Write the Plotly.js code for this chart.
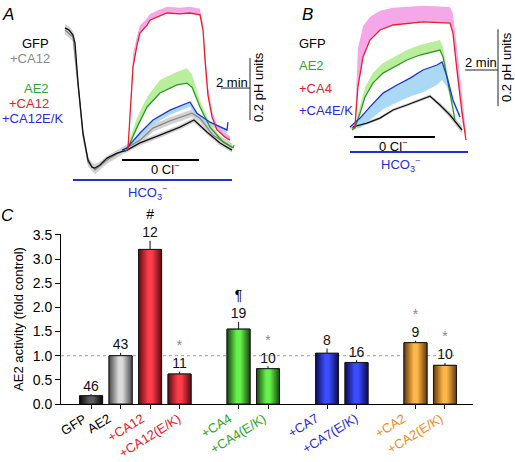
<!DOCTYPE html>
<html><head><meta charset="utf-8">
<script src="https://cdn.plot.ly/plotly-3.0.1.min.js"></script>
<style>html,body{margin:0;padding:0;background:#fff}#chart{width:515px;height:462px}</style>
</head><body><div id="chart"></div>
<script>
// ---------------- Panel C data (bar chart) ----------------
const barLabels = ['GFP','AE2','+CA12','+CA12(E/K)','+CA4','+CA4(E/K)','+CA7','+CA7(E/K)','+CA2','+CA2(E/K)'];
const barValues = [0.17, 1.00, 3.20, 0.62, 1.55, 0.73, 1.05, 0.86, 1.27, 0.80];
const barErrors = [0.03, 0.06, 0.18, 0.05, 0.15, 0.05, 0.10, 0.05, 0.04, 0.05];
const barN      = ['46','43','12','11','19','10','8','16','9','10'];
const barMarks  = ['', '', '#', '*', '¶', '*', '', '', '*', '*'];

// ---------------- Panel A data (time in min, ΔpHi) ----------------
const aGfpT = [0,0.28,0.55,0.69,0.90,1.24,1.59,1.86,2.07,2.41,2.90,3.59,4.28,5.17,6.55,7.93,8.90,9.79,10.69,11.52];
const aGfpV = [0.452,0.445,0.429,0.403,0.274,0.113,0.026,0.003,0,0.010,0.032,0.048,0.058,0.081,0.106,0.132,0.155,0.116,0.081,0.058];
const aGfpS = [0.012,0.012,0.012,0.012,0.012,0.012,0.012,0.012,0.012,0.010,0.008,0.008,0.008,0.008,0.008,0.008,0.008,0.008,0.008,0.008];

const aGfpCa12T = [0,0.55,0.90,1.24,1.59,2.07,2.90,4.28,5.17,6.07,7.24,8.76,9.31,10.21,11.52];
const aGfpCa12V = [0.445,0.423,0.268,0.106,0.019,-0.006,0.026,0.065,0.090,0.129,0.152,0.177,0.161,0.106,0.068];
const aGfpCa12S = [0.014,0.014,0.014,0.014,0.014,0.014,0.012,0.012,0.012,0.012,0.012,0.012,0.012,0.012,0.012];

const aEKT = [3.93,4.28,5.17,6.07,7.24,8.14,8.62,9.10,10.00,11.17,11.24];
const aEKV = [0.058,0.065,0.113,0.155,0.187,0.203,0.213,0.177,0.148,0.123,0.148];
const aEKS = [0.005,0.008,0.015,0.015,0.015,0.015,0.015,0.015,0.012,0.010,0.008];

const aAe2T = [4.14,4.34,4.97,5.66,6.55,7.72,8.41,8.76,9.31,10.00,10.90,11.59,11.66];
const aAe2V = [0.052,0.065,0.132,0.197,0.242,0.268,0.274,0.261,0.197,0.132,0.084,0.065,0.074];
const aAe2S = [0.005,0.010,0.030,0.032,0.042,0.042,0.048,0.040,0.020,0.010,0.008,0.006,0.006];

const aCa12T = [4.34,4.48,4.69,4.97,5.17,5.66,5.86,6.34,7.03,7.93,8.62,9.31,9.52,9.66,9.86,10.14,10.48,11.03,11.38];
const aCa12V = [0.058,0.155,0.326,0.397,0.435,0.461,0.477,0.487,0.500,0.497,0.500,0.494,0.445,0.348,0.235,0.165,0.123,0.100,0.090];
const aCa12S = [0.005,0.030,0.040,0.030,0.025,0.022,0.020,0.020,0.020,0.020,0.020,0.020,0.020,0.030,0.030,0.020,0.015,0.015,0.012];

// Panel A solution periods (min)
const aCl0 = [3.93, 9.24];
const aHco3 = [0.55, 11.52];

// ---------------- Panel B data (time in min, ΔpHi) ----------------
const bGfpT = [0.18,1.03,1.82,2.61,3.45,4.24,4.85,5.45,6.06,6.79];
const bGfpV = [0.008,0.018,0.031,0.052,0.065,0.078,0.088,0.065,0.039,0.000];
const bGfpS = [0.004,0.004,0.004,0.004,0.004,0.004,0.004,0.006,0.008,0.010];

const bEKT = [0,0.61,1.21,2.00,2.85,3.64,4.42,5.27,5.58,5.88,6.24,6.67];
const bEKV = [0.008,0.031,0.060,0.096,0.117,0.135,0.156,0.169,0.177,0.138,0.078,0.034];
const bEKS = [0.005,0.026,0.034,0.042,0.045,0.048,0.058,0.052,0.047,0.026,0.010,0.005];

const bAe2T = [0.12,0.30,0.61,0.91,1.39,2.00,3.45,4.24,5.45,5.64,6.06,6.36];
const bAe2V = [0,0.005,0.044,0.086,0.122,0.148,0.182,0.195,0.208,0.190,0.096,0.026];
const bAe2S = [0.003,0.005,0.020,0.025,0.026,0.026,0.026,0.026,0.026,0.025,0.015,0.005];

const bCa4T = [0.12,0.30,0.48,0.79,1.21,1.82,2.61,4.42,6.06,6.24,6.48,6.79,7.03];
const bCa4V = [0.005,0.008,0.112,0.190,0.234,0.260,0.273,0.281,0.278,0.252,0.156,0.044,-0.026];
const bCa4S = [0.005,0.010,0.100,0.080,0.060,0.050,0.045,0.042,0.042,0.050,0.060,0.050,0.020];

const bCl0 = [0.24, 5.15];
const bHco3 = [0, 7.15];

// scale bars
const scaleMin = 2, scalePH = 0.2;

// ---------------- styles / layout ----------------
const FONT = 'Liberation Sans, Arial, Helvetica, sans-serif';
const W = 515, H = 462;
const px = (x) => x / W, py = (y) => 1 - y / H;
const xPos = [0,1,2,3,5,6,8,9,11,12];
const barW = 0.78;
const labelShift = [1,-4,0,7,-1,4,-3,7,-4,4];
const barColors = ['#2e2e2e','#9d9d9d','#e3262f','#e3262f','#37b82b','#37b82b','#2631da','#2631da','#ef9b2d','#ef9b2d'];
const barShade = [
  ['#050505','#5e5e5e'], ['#4a4a4a','#dadada'], ['#5c0a10','#ff3c4a'], ['#5c0a10','#ff3c4a'],
  ['#17460e','#66f24c'], ['#17460e','#66f24c'], ['#0a0a4e','#3c4cff'], ['#0a0a4e','#3c4cff'],
  ['#643808','#ffb64a'], ['#643808','#ffb64a']
];
const labelColors = ['#000','#000','#e8202a','#e8202a','#2ea82a','#2ea82a','#2a2ae0','#2a2ae0','#f08c1e','#f08c1e'];
const cBlack = '#111', cGray = '#8a8a8a', cGreen = '#2a9a22', cRed = '#e8202a', cBlue = '#2232d8';

function band(t, mean, sem, mode, color, xa, ya) {
  const hi = mean.map((v,i) => mode === 'down' ? v : v + sem[i]);
  const lo = mean.map((v,i) => mode === 'up' ? v : v - sem[i]);
  return [
    {type:'scatter', mode:'lines', x:t, y:hi, line:{width:0, color:color}, xaxis:xa, yaxis:ya, hoverinfo:'skip', showlegend:false},
    {type:'scatter', mode:'lines', x:t, y:lo, line:{width:0, color:color}, fill:'tonexty', fillcolor:color, xaxis:xa, yaxis:ya, hoverinfo:'skip', showlegend:false}
  ];
}
function line(t, v, color, xa, ya) {
  return {type:'scatter', mode:'lines', x:t, y:v, line:{color:color, width:1.3}, xaxis:xa, yaxis:ya, hoverinfo:'skip', showlegend:false};
}

const data = [];
// Panel A
data.push(...band(aGfpT, aGfpV, aGfpS, 'both', '#d2d2d2', 'x2', 'y2'));
data.push(...band(aGfpCa12T, aGfpCa12V, aGfpCa12S, 'both', '#d2d2d2', 'x2', 'y2'));
data.push(...band(aEKT, aEKV, aEKS, 'down', '#a9d9f5', 'x2', 'y2'));
data.push(...band(aAe2T, aAe2V, aAe2S, 'up', '#b8ee9c', 'x2', 'y2'));
data.push(...band(aCa12T, aCa12V, aCa12S, 'up', '#f4a8e8', 'x2', 'y2'));
data.push(line(aGfpCa12T, aGfpCa12V, cGray, 'x2', 'y2'));
data.push(line(aGfpT, aGfpV, cBlack, 'x2', 'y2'));
data.push(line(aAe2T, aAe2V, cGreen, 'x2', 'y2'));
data.push(line(aEKT, aEKV, cBlue, 'x2', 'y2'));
data.push(line(aCa12T, aCa12V, cRed, 'x2', 'y2'));
// Panel B
data.push(...band(bGfpT, bGfpV, bGfpS, 'both', '#cfcfcf', 'x3', 'y3'));
data.push(...band(bEKT, bEKV, bEKS, 'down', '#a9d9f5', 'x3', 'y3'));
data.push(...band(bAe2T, bAe2V, bAe2S, 'up', '#b8ee9c', 'x3', 'y3'));
data.push(...band(bCa4T, bCa4V, bCa4S, 'up', '#f4a8e8', 'x3', 'y3'));
data.push(line(bGfpT, bGfpV, cBlack, 'x3', 'y3'));
data.push(line(bAe2T, bAe2V, cGreen, 'x3', 'y3'));
data.push(line(bEKT, bEKV, cBlue, 'x3', 'y3'));
data.push(line(bCa4T, bCa4V, cRed, 'x3', 'y3'));
// Panel C bars
data.push({
  type:'bar', x:xPos, y:barValues, width:barW, xaxis:'x', yaxis:'y',
  marker:{color:barColors, line:{color:'#1a1a1a', width:1}},
  error_y:{type:'data', array:barErrors, arrayminus:barErrors.map(() => 0), symmetric:false, color:'#333', thickness:1.2, width:0},
  hoverinfo:'skip', showlegend:false
});
// cylindrical shading over each bar (same value, same axis)
barValues.forEach((v, i) => {
  const c = xPos[i], h = barW / 2;
  data.push({
    type:'scatter', mode:'lines', xaxis:'x', yaxis:'y',
    x:[c - h, c + h, c + h, c - h, c - h], y:[0, 0, v, v, 0],
    fill:'toself',
    fillgradient:{type:'horizontal', colorscale:[[0, barShade[i][0]], [0.42, barShade[i][1]], [0.58, barShade[i][1]], [1, barShade[i][0]]]},
    line:{color:'#1a1a1a', width:1}, hoverinfo:'skip', showlegend:false
  });
});
data.push({
  type:'scatter', mode:'text', x:xPos, y:barValues.map((v,i) => v + barErrors[i]), xaxis:'x', yaxis:'y',
  text: barN.map((n,i) => {
    const m = barMarks[i];
    if (!m) return n;
    const col = m === '*' ? '#8a8a8a' : '#000';
    return '<span style="color:' + col + '">' + m + '</span><br>' + n;
  }),
  textposition:'top center', textfont:{family:FONT, size:14, color:'#111'}, cliponaxis:false,
  hoverinfo:'skip', showlegend:false
});

const shapes = [
  {type:'line', xref:'x', yref:'y', x0:-1.02, x1:12.4, y0:1, y1:1, layer:'below', line:{color:'#9a9a9a', width:1, dash:'dot'}},
  // Panel A solution bars
  {type:'line', xref:'x2', yref:'paper', x0:aCl0[0], x1:aCl0[1], y0:py(160), y1:py(160), line:{color:'#000', width:2.2}},
  {type:'line', xref:'x2', yref:'paper', x0:aHco3[0], x1:aHco3[1], y0:py(180), y1:py(180), line:{color:'#1f30d6', width:2.2}},
  // Panel B solution bars
  {type:'line', xref:'x3', yref:'paper', x0:bCl0[0], x1:bCl0[1], y0:py(137), y1:py(137), line:{color:'#000', width:2.2}},
  {type:'line', xref:'x3', yref:'paper', x0:bHco3[0], x1:bHco3[1], y0:py(152), y1:py(152), line:{color:'#1f30d6', width:2.2}},
  // Scale bars A
  {type:'line', xref:'x2', yref:'y2', x0:12.76 - scaleMin, x1:12.76, y0:0.258, y1:0.258, line:{color:'#222', width:1}},
  {type:'line', xref:'x2', yref:'y2', x0:12.76, x1:12.76, y0:0.155, y1:0.155 + scalePH, line:{color:'#222', width:1}},
  // Scale bars B
  {type:'line', xref:'x3', yref:'y3', x0:8.97 - scaleMin, x1:8.97, y0:0.156, y1:0.156, line:{color:'#222', width:1}},
  {type:'line', xref:'x3', yref:'y3', x0:8.97, x1:8.97, y0:0.062, y1:0.062 + scalePH, line:{color:'#222', width:1}}
];

function ann(text, x, y, opts) {
  return Object.assign({text:text, x:px(x), y:py(y), xref:'paper', yref:'paper', showarrow:false,
    xanchor:'center', yanchor:'middle', font:{family:FONT, size:13, color:'#000'}}, opts || {});
}
const annotations = [
  ann('<i>A</i>', 8, 15, {font:{family:FONT, size:17, color:'#000'}}),
  ann('<i>B</i>', 307, 15, {font:{family:FONT, size:17, color:'#000'}}),
  ann('<i>C</i>', 7, 215, {font:{family:FONT, size:17, color:'#000'}}),
  ann('GFP', 35, 43),
  ann('+CA12', 30, 59, {font:{family:FONT, size:13, color:'#8a8a8a'}}),
  ann('AE2', 36, 88, {font:{family:FONT, size:13, color:'#2ea82a'}}),
  ann('+CA12', 29, 103, {font:{family:FONT, size:13, color:'#e8202a'}}),
  ann('+CA12E/K', 0, 118, {xanchor:'left', font:{family:FONT, size:13, color:'#2a2ae0'}}),
  ann('GFP', 297, 43, {xanchor:'left'}),
  ann('AE2', 297, 65, {xanchor:'left', font:{family:FONT, size:13, color:'#2ea82a'}}),
  ann('+CA4', 297, 88, {xanchor:'left', font:{family:FONT, size:13, color:'#e8202a'}}),
  ann('+CA4E/K', 297, 110, {xanchor:'left', font:{family:FONT, size:13, color:'#2a2ae0'}}),
  ann('0 Cl<sup>−</sup>', 165, 169),
  ann('HCO<sub>3</sub><sup>−</sup>', 147, 193, {font:{family:FONT, size:13, color:'#1f30d6'}}),
  ann('0 Cl<sup>−</sup>', 393, 146),
  ann('HCO<sub>3</sub><sup>−</sup>', 400, 165, {font:{family:FONT, size:13, color:'#1f30d6'}}),
  ann('2 min', 232, 82),
  ann('0.2 pH units', 258, 87, {textangle:-90}),
  ann('2 min', 481, 62),
  ann('0.2 pH units', 506, 67, {textangle:-90})
];
// rotated category labels under the bars (placed at each bar's x on the bar axis)
barLabels.forEach((l, i) => {
  annotations.push({text:l, xref:'x', yref:'paper', x:xPos[i], xshift:labelShift[i], y:py(408),
    xanchor:'right', yanchor:'top', textangle:-32, showarrow:false,
    font:{family:FONT, size:13, color:labelColors[i]}});
});

const layout = {
  width:W, height:H, margin:{l:0, r:0, t:0, b:0},
  paper_bgcolor:'#fff', plot_bgcolor:'rgba(0,0,0,0)',
  font:{family:FONT, size:13, color:'#000'},
  showlegend:false,
  xaxis:{domain:[px(61), px(473)], range:[-1.02, 12.95], anchor:'y',
    tickvals:xPos, showticklabels:false,
    ticks:'outside', ticklen:4, tickcolor:'#000', showline:true, linecolor:'#000', linewidth:1,
    showgrid:false, zeroline:false, automargin:false},
  yaxis:{domain:[py(404), py(234)], range:[0, 3.52], anchor:'x',
    tickvals:[0,0.5,1,1.5,2,2.5,3,3.5], tickformat:'.1f', ticks:'outside', ticklen:5, tickcolor:'#000',
    showline:true, linecolor:'#000', linewidth:1, showgrid:false, zeroline:false,
    tickfont:{family:FONT, size:14}, automargin:false,
    title:{text:'AE2 activity (fold control)', font:{family:FONT, size:13}, standoff:6}},
  xaxis2:{domain:[px(60), px(260)], range:[-0.345, 13.45], anchor:'y2', visible:false},
  yaxis2:{domain:[py(200), py(0)], range:[-0.103, 0.542], anchor:'x2', visible:false},
  xaxis3:{domain:[px(340), 1], range:[-0.606, 10.0], anchor:'y3', visible:false},
  yaxis3:{domain:[py(200), py(0)], range:[-0.182, 0.338], anchor:'x3', visible:false},
  shapes:shapes, annotations:annotations
};

Plotly.newPlot('chart', data, layout, {staticPlot:true, displayModeBar:false});
</script>
</body></html>
